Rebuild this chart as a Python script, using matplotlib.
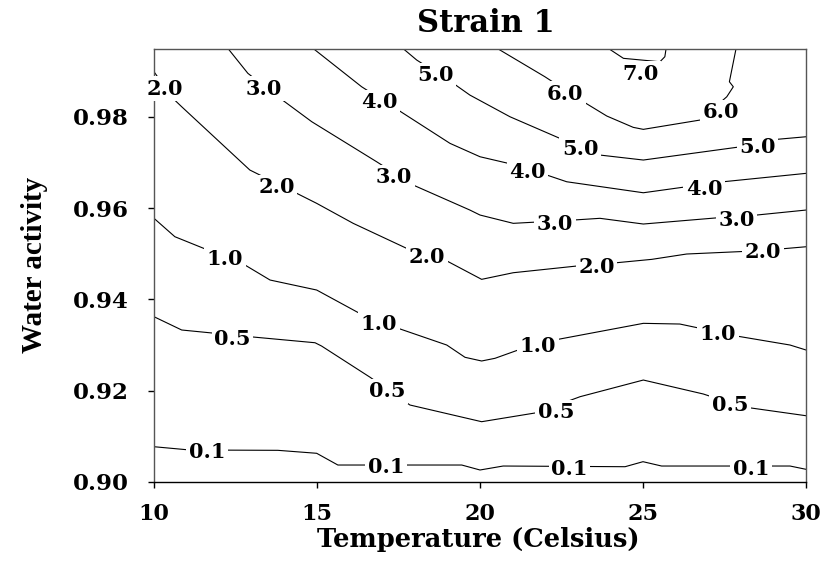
import matplotlib
matplotlib.use('Agg')
from matplotlib import pyplot as plt

# contour lines (temperature, water activity)
x01 = [10.0, 11.10, 13.80, 14.99, 15.64, 19.44, 20.0, 20.71, 24.45, 25.0, 25.57, 29.51, 30.0]
y01 = [0.90773, 0.90701, 0.90694, 0.90629, 0.90372, 0.90372, 0.90263, 0.90350, 0.90335, 0.90445, 0.90350, 0.90350, 0.90278]

x05 = [10.0, 10.85, 12.94, 14.94, 15.14, 16.63, 17.85, 20.05, 21.74, 23.07, 25.01, 26.85, 28.03, 30.0]
y05 = [0.93621, 0.93330, 0.93183, 0.93051, 0.92979, 0.92294, 0.91687, 0.91321, 0.91518, 0.91869, 0.92234, 0.91928, 0.91650, 0.91452]

x10 = [10.0, 10.64, 12.79, 13.56, 14.99, 16.27, 17.49, 18.98, 19.54, 20.05, 20.46, 21.23, 22.40, 25.01, 26.13, 27.87, 29.51, 30.0]
y10 = [0.95777, 0.95374, 0.94754, 0.94425, 0.94206, 0.93709, 0.93367, 0.93001, 0.92732, 0.92651, 0.92710, 0.92907, 0.93126, 0.93476, 0.93461, 0.93198, 0.93001, 0.92892]

x20 = [10.0, 10.58, 10.85, 12.94, 14.38, 14.99, 16.11, 17.75, 18.93, 20.05, 21.02, 22.97, 24.19, 25.27, 26.34, 28.59, 30.0]
y20 = [0.98988, 0.98405, 0.98221, 0.96835, 0.96324, 0.96105, 0.95667, 0.95119, 0.94863, 0.94440, 0.94585, 0.94732, 0.94804, 0.94878, 0.94995, 0.95067, 0.95154]

x30 = [12.21, 12.88, 13.87, 14.84, 16.83, 17.95, 19.69, 20.0, 21.02, 22.86, 23.68, 25.01, 27.31, 28.49, 30.0]
y30 = [0.9955, 0.98953, 0.98405, 0.97893, 0.97016, 0.96506, 0.95958, 0.95849, 0.95667, 0.95739, 0.95777, 0.95652, 0.95790, 0.95849, 0.95958]

x40 = [14.79, 16.37, 17.49, 19.08, 20.0, 20.87, 22.05, 22.66, 25.01, 26.34, 27.46, 30.0]
y40 = [0.9955, 0.98659, 0.98149, 0.97419, 0.97126, 0.96981, 0.96725, 0.96578, 0.96337, 0.96469, 0.96578, 0.96762]

x50 = [17.55, 18.06, 19.18, 19.69, 20.92, 22.45, 23.68, 25.01, 27.87, 29.10, 30.0]
y50 = [0.9955, 0.99244, 0.98734, 0.98477, 0.98002, 0.97529, 0.97163, 0.97054, 0.97332, 0.97507, 0.97564]

x60 = [20.41, 21.99, 23.17, 23.89, 24.70, 25.01, 26.75, 27.57, 27.77, 27.65, 27.87]
y60 = [0.9955, 0.98879, 0.98331, 0.98018, 0.97770, 0.97726, 0.97930, 0.98440, 0.98659, 0.98769, 0.9955]

x70 = [23.83, 24.40, 25.52, 25.67, 25.72]
y70 = [0.9955, 0.99282, 0.99207, 0.99317, 0.9955]

# inline contour labels
label_text = ['2.0', '3.0', '4.0', '5.0', '3.0', '2.0', '2.0', '1.0', '7.0', '6.0', '6.0',
              '5.0', '5.0', '4.0', '4.0', '3.0', '3.0', '2.0', '2.0', '1.0', '0.5', '0.5',
              '0.1', '0.1', '1.0', '1.0', '0.5', '0.5', '0.1', '0.1']
label_x = [10.34, 13.37, 16.90, 18.62, 17.36, 13.76, 18.37, 12.18, 24.91, 22.61, 27.40,
           23.07, 28.51, 21.46, 26.87, 22.30, 27.87, 23.58, 28.68, 16.90, 12.41, 17.16,
           11.63, 17.11, 21.78, 27.30, 22.33, 27.67, 22.75, 28.31]
label_y = [0.98659, 0.98659, 0.98368, 0.98959, 0.96725, 0.96506, 0.94973, 0.94935, 0.98988, 0.98550, 0.98149,
           0.97345, 0.97382, 0.96835, 0.96469, 0.95702, 0.95777, 0.94754, 0.95082, 0.93512, 0.93183, 0.92037,
           0.90701, 0.90372, 0.93023, 0.93292, 0.91577, 0.91731, 0.90335, 0.90335]

x_ticks = [10, 15, 20, 25, 30]
y_ticks = [0.90, 0.92, 0.94, 0.96, 0.98]

W, H = 828, 573
fig = plt.figure(figsize=(W / 100, H / 100), dpi=100)
ax = fig.add_axes([154 / W, 1 - 482 / H, (806 - 154) / W, (482 - 49.3) / H])

for xs, ys in [(x01, y01), (x05, y05), (x10, y10), (x20, y20), (x30, y30),
               (x40, y40), (x50, y50), (x60, y60), (x70, y70)]:
    ax.plot(xs, ys, '-', color='black', lw=0.8)

for t, lx, ly in zip(label_text, label_x, label_y):
    ax.text(lx, ly, t, ha='center', va='center_baseline', fontsize=15,
            family='DejaVu Serif', fontweight='bold', clip_on=False, zorder=5,
            bbox=dict(boxstyle='square,pad=0.12', fc='white', ec='none'))

ax.set_xlim(10, 30)
ax.set_ylim(0.90, 0.9948)
ax.set_xticks(x_ticks)
ax.set_yticks(y_ticks)
ax.set_xticklabels([str(v) for v in x_ticks], family='DejaVu Serif', fontweight='bold', fontsize=16)
ax.set_yticklabels(['%.2f' % v for v in y_ticks], family='DejaVu Serif', fontweight='bold', fontsize=16.5)
ax.tick_params(axis='x', direction='out', length=4, width=1, pad=11)
ax.tick_params(axis='y', direction='out', length=4.5, width=1, pad=13.5)

for side in ['left', 'top', 'right']:
    ax.spines[side].set_color('#555555')
    ax.spines[side].set_linewidth(1)
ax.spines['bottom'].set_color('black')
ax.spines['bottom'].set_linewidth(1)

fig.text(486 / W, 1 - 31.7 / H, 'Strain 1', ha='center', va='baseline',
         family='DejaVu Serif', fontweight='bold', fontsize=22)
fig.text(478 / W, 1 - 547 / H, 'Temperature (Celsius)', ha='center', va='baseline',
         family='DejaVu Serif', fontweight='bold', fontsize=18.5)
fig.text(42 / W, 1 - 265 / H, 'Water activity', ha='center', va='baseline',
         rotation=90, rotation_mode='anchor',
         family='Liberation Serif', fontweight='bold', fontsize=21)

fig.savefig('out.png', dpi=100)
plt.close(fig)
